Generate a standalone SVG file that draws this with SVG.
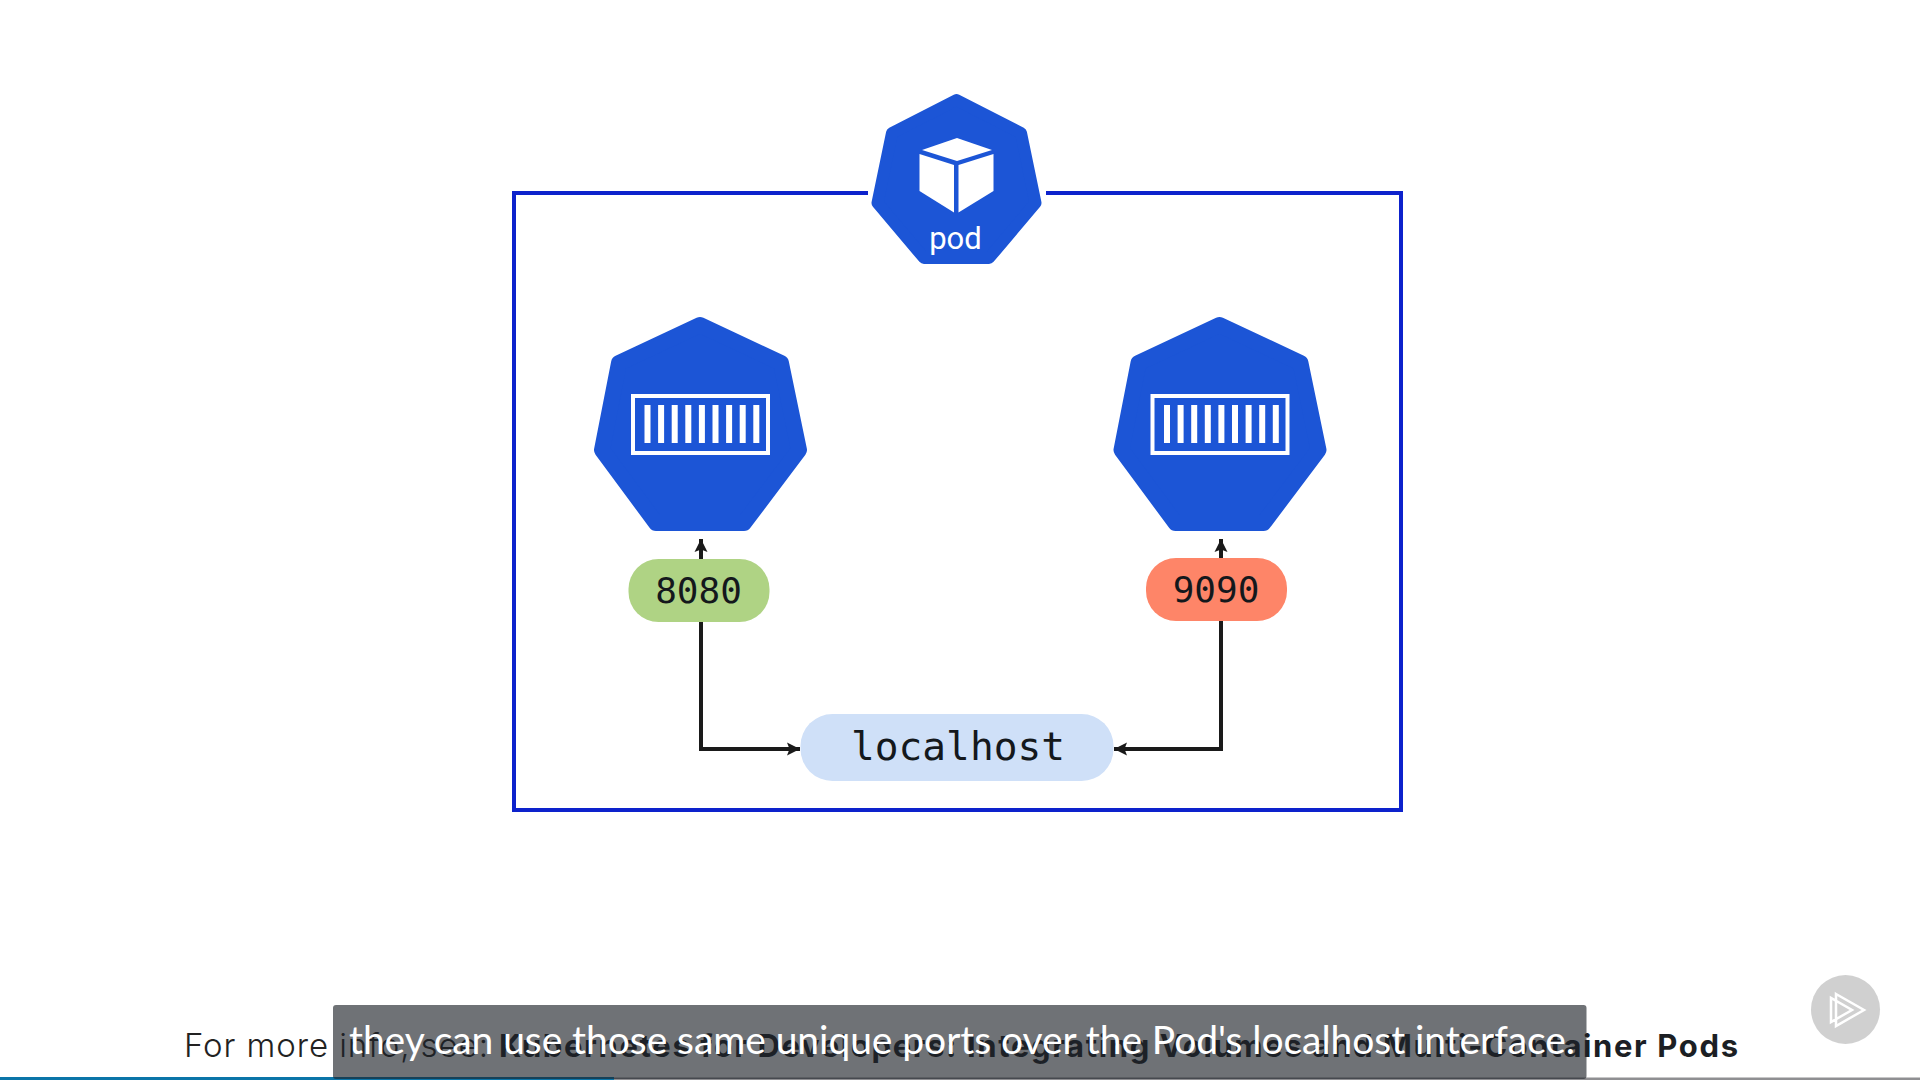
<svg xmlns="http://www.w3.org/2000/svg" width="1920" height="1080" viewBox="0 0 1920 1080">
<style>
.hex{fill:#1c55d6;stroke:#1c55d6;stroke-linejoin:round}
.pill-t{font-family:"DejaVu Sans Mono","Liberation Mono",monospace;fill:#14181c;text-anchor:middle}
.conn{fill:none;stroke:#1a1a1a;stroke-width:4}
.bars rect{fill:#fff}
</style>
<defs>
<marker id="ah" markerUnits="userSpaceOnUse" markerWidth="16" markerHeight="16" refX="13" refY="8" orient="auto"><path d="M0 1.5L13 8L0 14.5L2.5 8Z" fill="#1a1a1a"/></marker>
<g id="box"><rect x="633" y="396" width="135" height="57" fill="none" stroke="#fff" stroke-width="4"/><g class="bars"><rect x="644.5" y="405" width="6" height="38"/><rect x="658.1" y="405" width="6" height="38"/><rect x="671.7" y="405" width="6" height="38"/><rect x="685.3" y="405" width="6" height="38"/><rect x="698.9" y="405" width="6" height="38"/><rect x="712.5" y="405" width="6" height="38"/><rect x="726.1" y="405" width="6" height="38"/><rect x="739.7" y="405" width="6" height="38"/><rect x="753.3" y="405" width="6" height="38"/></g></g>
</defs>
<rect width="1920" height="1080" fill="#fff"/>
<g id="pod-frame"><path d="M868 193H514V810H1401V193H1046" fill="none" stroke="#0d22cc" stroke-width="4"/></g>
<g id="connectors">
<path class="conn" d="M701 559V539" marker-end="url(#ah)"/>
<path class="conn" d="M1221 558V539" marker-end="url(#ah)"/>
<path class="conn" d="M701 622V749H800" marker-end="url(#ah)"/>
<path class="conn" d="M1221 620V749H1114" marker-end="url(#ah)"/>
</g>
<g id="pod">
<polygon class="hex" stroke-width="12" points="956.5,100 1021,133 1035.5,203 989,258 924,258 877.5,203 892,133"/>
<path d="M957 138L992 150L957 161L922 150Z" fill="#fff"/>
<path d="M919.5 154L954 165V212.5L919.5 191Z" fill="#fff"/>
<path d="M958.5 165L993.5 154V191L958.5 212.5Z" fill="#fff"/>
<text x="955.5" y="249" font-family="Roboto,Arial,sans-serif" font-size="31" fill="#fff" text-anchor="middle">pod</text>
</g>
<g id="container-left">
<polygon class="hex" stroke-width="16" points="700,325 781,363 799,450 744,523 656,523 602,450 619,363"/>
<use href="#box"/>
</g>
<g id="container-right" transform="translate(519.5 0)">
<polygon class="hex" stroke-width="16" points="700,325 781,363 799,450 744,523 656,523 602,450 619,363"/>
<use href="#box"/>
</g>
<g id="port-8080"><rect x="628.5" y="559" width="141" height="63" rx="30" fill="#afd384"/><text class="pill-t" x="698.5" y="603" font-size="36">8080</text></g>
<g id="port-9090"><rect x="1146" y="558" width="141" height="63" rx="30" fill="#fe8568"/><text class="pill-t" x="1216" y="602" font-size="36">9090</text></g>
<g id="localhost"><rect x="800.5" y="714" width="313" height="67" rx="32" fill="#cfe0f8"/><text class="pill-t" x="958" y="760" font-size="39.5">localhost</text></g>
<g id="footer">
<text x="184" y="1057" font-family="Inter,Lato,sans-serif" font-size="33" font-weight="300" fill="#222" textLength="304">For more info, see:</text>
<text x="499" y="1057" font-family="Inter,Lato,sans-serif" font-size="31" font-weight="700" fill="#1c1f24" textLength="1239">Kubernetes for Developers: Integrating Volumes and Multi-Container Pods</text>
<rect x="0" y="1077.5" width="1920" height="2.5" fill="#8f8f92"/>
<rect x="0" y="1077" width="614" height="3" fill="#0b75a8"/>
</g>
<g id="caption">
<rect x="333" y="1005" width="1253.5" height="74" rx="3" fill="#1e2228" fill-opacity="0.64"/>
<text x="349" y="1054" font-family="Lato,Roboto,Arial,sans-serif" font-size="39" fill="#fff" textLength="1226">they can use those same unique ports over the Pod's localhost interface.</text>
</g>
<g id="play">
<circle cx="1845.5" cy="1009.5" r="34.5" fill="#d0d0d0"/>
<path d="M1836 994L1864 1010L1836 1026Z M1831 998V1022L1852 1010Z" fill="none" stroke="#fff" stroke-width="2.5"/>
</g>
</svg>
